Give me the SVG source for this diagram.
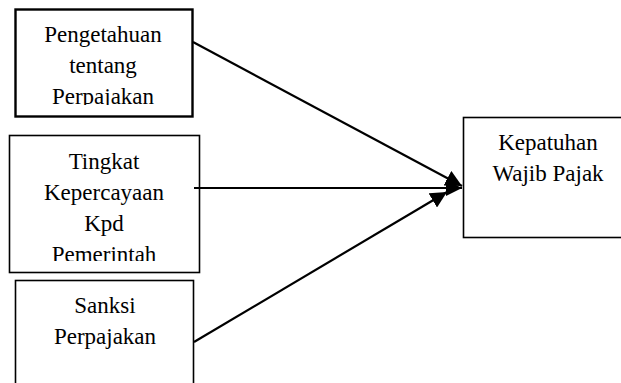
<svg xmlns="http://www.w3.org/2000/svg" width="621" height="383" viewBox="0 0 621 383">
<style>
.box{fill:#fff;stroke:#000;stroke-width:1.6}
.thick{stroke-width:2.4}
.t{font-family:"Liberation Serif","Times New Roman",serif;font-size:23px;fill:#000;text-anchor:middle}
.c{stroke:#000;stroke-width:2.2;fill:none}
</style>
<defs>
<marker id="ah" viewBox="0 0 10 10" refX="10" refY="5" markerWidth="7.5" markerHeight="7.5" markerUnits="strokeWidth" orient="auto">
<path d="M0,0 L10,5 L0,10 z" fill="#000"/>
</marker>
<clipPath id="c1"><rect x="15" y="9" width="177" height="96"/></clipPath>
<clipPath id="c2"><rect x="9" y="136" width="190" height="125"/></clipPath>
</defs>
<g id="n1">
<rect class="box thick" x="15.5" y="9.5" width="177" height="107"/>
<g clip-path="url(#c1)">
<text class="t" x="103" y="42">Pengetahuan</text>
<text class="t" x="103" y="73">tentang</text>
<text class="t" x="103" y="104">Perpajakan</text>
</g>
</g>
<g id="n2">
<rect class="box" x="9.5" y="135.5" width="190" height="137"/>
<g clip-path="url(#c2)">
<text class="t" x="104" y="169">Tingkat</text>
<text class="t" x="104" y="200">Kepercayaan</text>
<text class="t" x="104" y="231">Kpd</text>
<text class="t" x="104" y="262">Pemerintah</text>
</g>
</g>
<g id="n3">
<rect class="box" x="15.5" y="280.5" width="178" height="120"/>
<text class="t" x="105" y="313">Sanksi</text>
<text class="t" x="105" y="344">Perpajakan</text>
</g>
<g id="n4">
<rect class="box" x="463.5" y="117.5" width="170" height="120"/>
<text class="t" x="548" y="150">Kepatuhan</text>
<text class="t" x="548" y="181">Wajib Pajak</text>
</g>
<g id="connectors">
<line class="c" x1="193" y1="42" x2="462" y2="186" marker-end="url(#ah)"/>
<line class="c" x1="194" y1="188" x2="462" y2="188" marker-end="url(#ah)"/>
<line class="c" x1="194" y1="342" x2="447" y2="192" marker-end="url(#ah)"/>
</g>
</svg>
